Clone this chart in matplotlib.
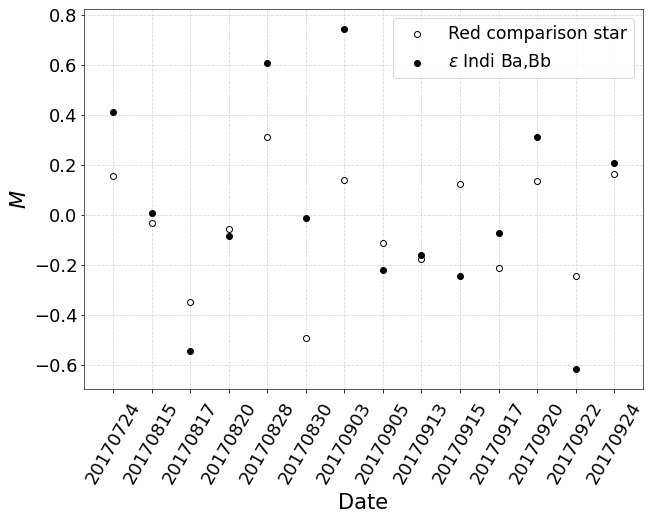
import matplotlib
matplotlib.use("Agg")
import matplotlib.pyplot as plt

dates = ["20170724", "20170815", "20170817", "20170820", "20170828", "20170830", "20170903",
         "20170905", "20170913", "20170915", "20170917", "20170920", "20170922", "20170924"]
red_comp = [0.157, -0.031, -0.349, -0.055, 0.312, -0.492, 0.142,
            -0.112, -0.176, 0.124, -0.212, 0.136, -0.243, 0.166]
eps_indi = [0.412, 0.008, -0.544, -0.084, 0.608, -0.012, 0.744,
            -0.220, -0.159, -0.245, -0.072, 0.312, -0.616, 0.209]
yticks = [-0.6, -0.4, -0.2, 0.0, 0.2, 0.4, 0.6, 0.8]

DPI = 72
fig = plt.figure(figsize=(653 / DPI, 521 / DPI), dpi=DPI)
ax = fig.add_axes([84.3 / 653, 1 - 388.7 / 521, (642.7 - 84.3) / 653, (388.7 - 9) / 521])
x = list(range(len(dates)))
ax.scatter(x, red_comp, facecolors="white", edgecolors="black", s=36, linewidths=1.0,
           label="Red comparison star", zorder=3)
ax.scatter(x, eps_indi, color="black", s=36, label=r"$\epsilon$ Indi Ba,Bb", zorder=3)
ax.set_xticks(x)
ax.set_xticklabels(dates, rotation=60, ha="center", fontsize=18)
ax.set_yticks(yticks)
ax.set_yticklabels([f"{v:.1f}".replace("-", "\u2212") for v in yticks])
ax.tick_params(axis="y", labelsize=18)
ax.tick_params(axis="x", pad=7)
ax.set_xlim(-0.744, 13.74)
ax.set_ylim(-0.694, 0.825)
ax.grid(True, linestyle="--", color="#d8d8d8", linewidth=0.8)
ax.set_axisbelow(True)
ax.set_xlabel("Date", fontsize=21, labelpad=6)
ax.set_ylabel(r"$M$", fontsize=21)
for s in ax.spines.values():
    s.set_color("#333333")
ax.legend(loc="upper right", fontsize=17.3, framealpha=0.8)
fig.savefig("out.png", dpi=DPI)
